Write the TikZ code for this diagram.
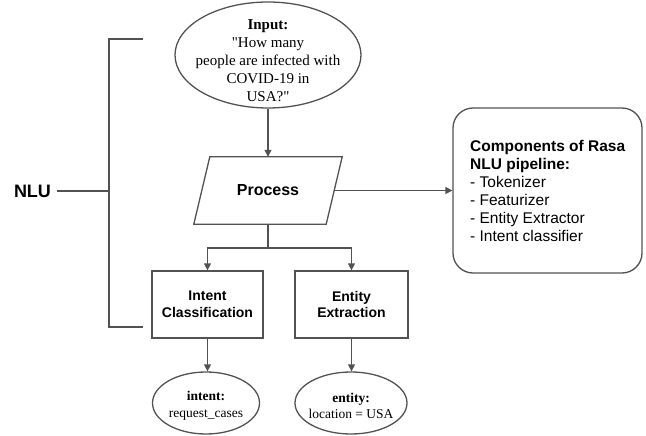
\documentclass[tikz,border=0pt]{standalone}
\usepackage{fontspec}
\setmainfont{Liberation Serif}
\setsansfont{Liberation Sans}
\newfontfamily\plainserif{Liberation Serif}
\usetikzlibrary{shapes.geometric,arrows.meta}
\begin{document}
\begin{tikzpicture}[x=1pt,y=-1pt,
  line/.style={draw=black!68, line width=1.3pt},
  arr/.style={line, -{Triangle[length=7pt,width=7pt]}},
  oval/.style={ellipse, draw=black!68, line width=1.3pt, inner sep=0pt},
  txt/.style={inner sep=0pt, align=center},
  boxnode/.style={rectangle, draw=black!68, line width=1.3pt, align=center, font=\sffamily\bfseries\fontsize{14}{16.5}\selectfont},
]
\useasboundingbox (0,0) rectangle (646,436);
% input ellipse
\node[oval, minimum width=186, minimum height=106] (inp) at (268,55) {};
\node[txt, font=\plainserif\fontsize{15}{18}\selectfont] (inptext) at (268,61)
  {\textbf{Input:}\\"How many\\people are infected with\\COVID-19 in\\USA?"};
% process
\node[minimum width=132, minimum height=67, inner sep=0pt, font=\sffamily\bfseries\fontsize{16}{18}\selectfont] (proc) at (268,190.5) {Process};
\draw[line] ([xshift=8pt]proc.north west) -- ([xshift=8pt]proc.north east) -- ([xshift=-8pt]proc.south east) -- ([xshift=-8pt]proc.south west) -- cycle;
% rasa box
\node[draw=black!68, line width=1.3pt, rounded corners=20pt, minimum width=189, minimum height=165, inner sep=0pt] (rasa) at (547.5,190.5) {};
\node[anchor=north west, align=left, inner sep=0pt, font=\sffamily\fontsize{15.5}{18}\selectfont] (rasatext) at (470,140)
  {\textbf{Components of Rasa}\\\textbf{NLU pipeline:}\\- Tokenizer\\- Featurizer\\- Entity Extractor\\- Intent classifier};
% boxes
\node[boxnode, minimum width=111, minimum height=67] (intent) at (207.5,304.5) {Intent\\Classification};
\node[boxnode, minimum width=113, minimum height=67] (entity) at (351.5,304.5) {Entity\\Extraction};
% bottom ellipses
\node[oval, minimum width=107, minimum height=62] (iout) at (206,403) {};
\node[txt, font=\rmfamily\fontsize{13.5}{16.5}\selectfont] (iouttext) at (206,406)
  {\textbf{intent:}\\request\_cases};
\node[oval, minimum width=112, minimum height=62] (eout) at (351,403) {};
\node[txt, font=\rmfamily\fontsize{13.5}{16.5}\selectfont] (eouttext) at (351,406)
  {\textbf{entity:}\\location = USA};
% NLU bracket
\node[font=\sffamily\bfseries\fontsize{18}{20}\selectfont, inner sep=0pt] (nlu) at (32.5,191) {NLU};
\coordinate (bt) at (109,39);
\coordinate (bb) at (109,327);
\coordinate (btr) at (143,39);
\coordinate (bbr) at (143,327);
\coordinate (bm) at (109,191);
\draw[line] (btr) -- (bt) -- (bb) -- (bbr);
\draw[line] ([xshift=6pt]nlu.east) -- (bm);
% connectors
\draw[arr] (inp.south) -- (proc.north);
\draw[arr] (proc.east) -- (rasa.west);
\coordinate (split) at (268,248);
\draw[line] (proc.south) -- (split);
\draw[arr] (split) -| (intent.north);
\draw[arr] (split) -| (entity.north);
\draw[arr] (intent.south) -- (intent.south |- iout.north);
\draw[arr] (entity.south) -- (entity.south |- eout.north);
\end{tikzpicture}
\end{document}
